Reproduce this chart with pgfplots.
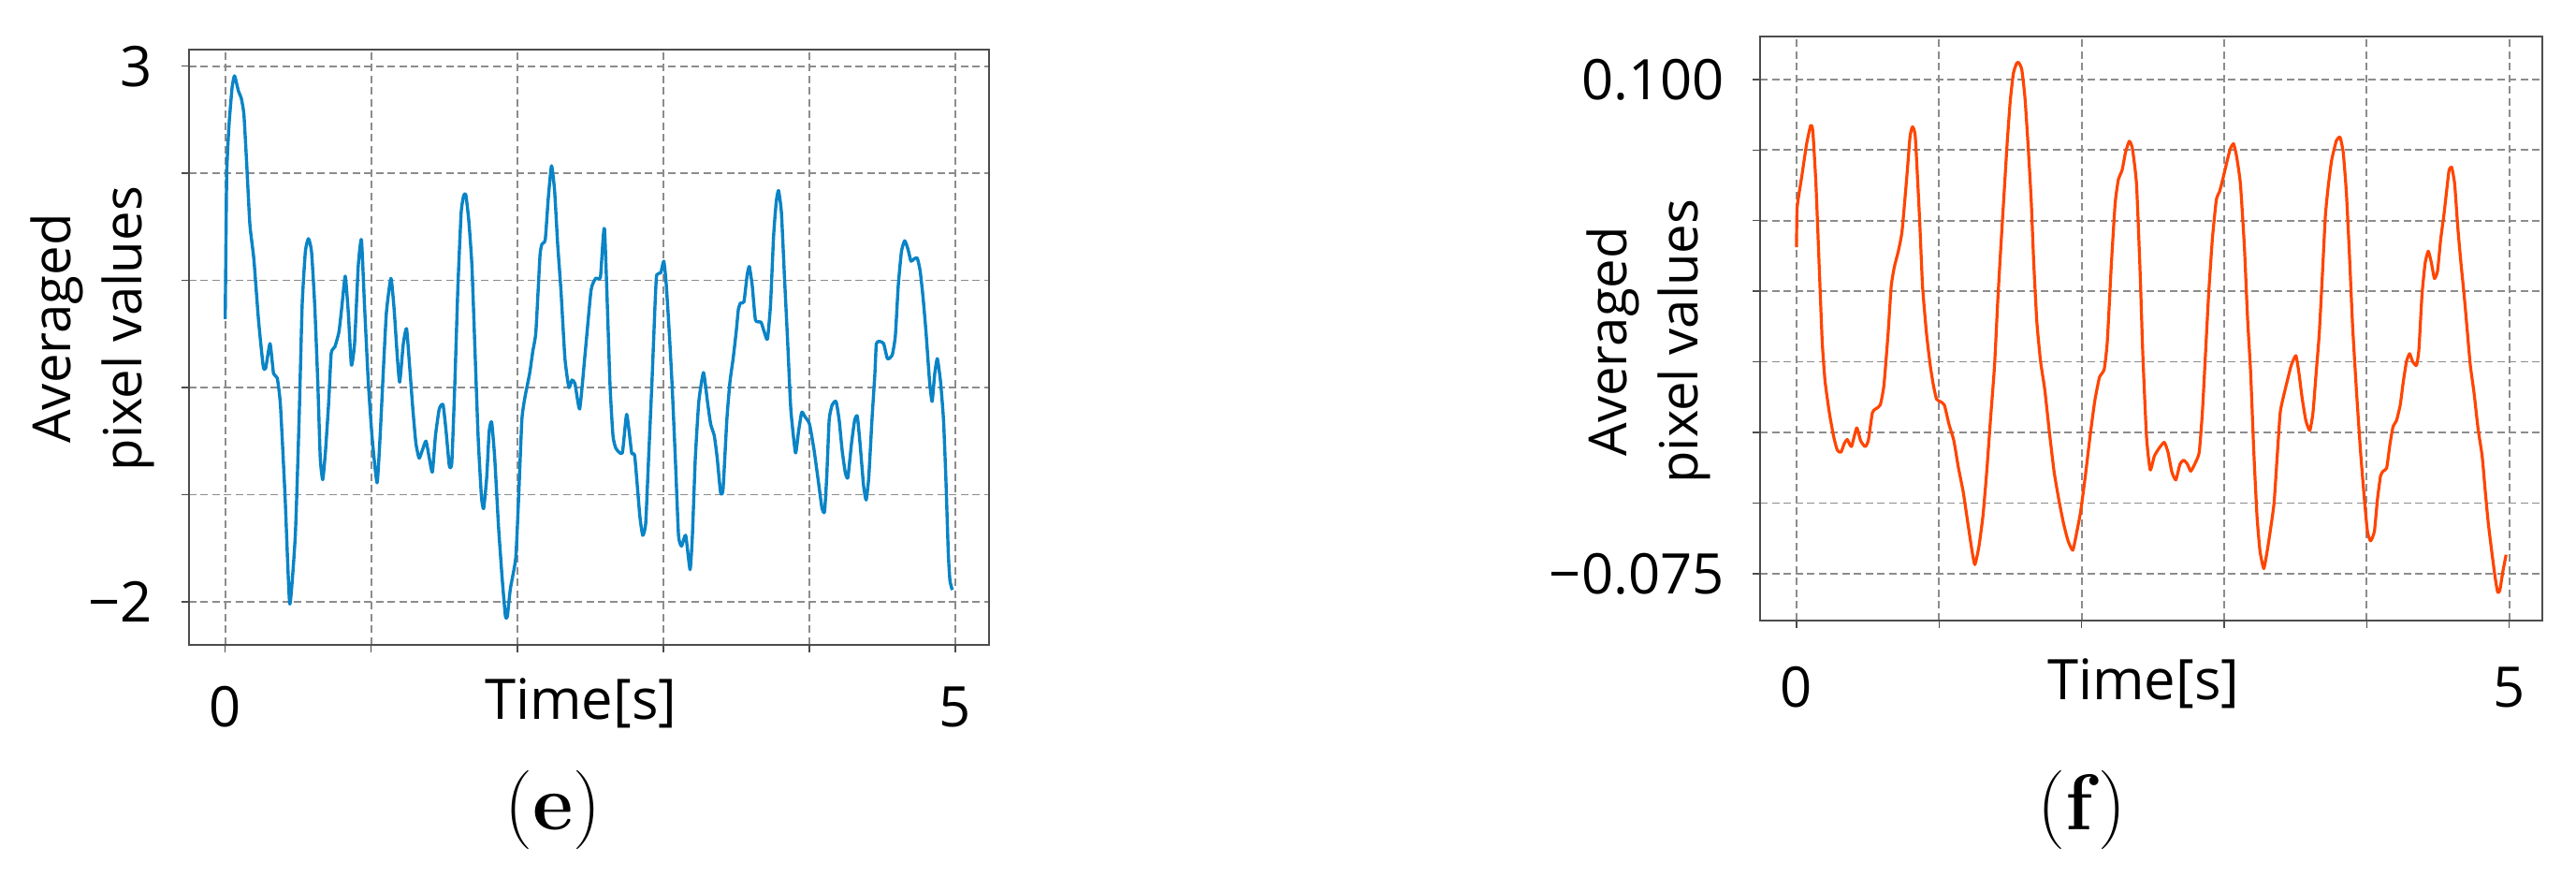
\documentclass[border=0pt]{standalone}
\usepackage{fontspec}
\usepackage{pgfplots}
\pgfplotsset{compat=1.18}
\newfontfamily\sans{Open Sans}
\definecolor{sigblue}{HTML}{0A84C6}
\definecolor{sigred}{HTML}{FF4500}

\pgfplotsset{
  panel/.style={
    scale only axis,
    anchor=south west,
    xmin=-0.25, xmax=5.23,
    xtick={0,1,2,3,4,5},
    xticklabels={0,,,,,5},
    tick pos=left,
    tick align=outside,
    major tick length=0.08cm,
    tick style={black!70, line width=0.015cm},
    axis line style={black!70, line width=0.02cm},
    grid=major,
    major grid style={black!45, line width=0.017cm, dash pattern=on 0.08cm off 0.045cm},
    scaled y ticks=false,
    ticklabel style={font=\sans\fontsize{17}{20}\selectfont},
    yticklabel style={anchor=east, inner sep=0pt, xshift=-0.30cm},
    xlabel={Time[s]},
    ylabel={Averaged\\pixel values},
    xlabel style={font=\sans\fontsize{17}{20}\selectfont, anchor=base, inner sep=0pt},
    ylabel style={font=\sans\fontsize{16}{21.5}\selectfont, anchor=center, align=center},
  }
}

\begin{document}
\begin{tikzpicture}
\path[use as bounding box] (0,0) rectangle (27.53,9.53);

% (e)
\begin{axis}[panel,
  at={(2.017cm,2.643cm)},
  width=8.55cm, height=6.357cm,
  ymin=-2.40, ymax=3.155,
  ytick={-2,-1,0,1,2,3},
  yticklabels={−2,,,,,3},
  xticklabel style={anchor=base, inner sep=0pt, yshift=-0.80cm},
  xlabel style={at={(axis description cs:0.49,0)}, yshift=-0.80cm},
  ylabel style={at={(axis description cs:-0.120,0.531)}},
]
\addplot[sigblue, line width=0.034cm, line join=round, smooth, tension=0.3] coordinates {
(0.00,0.64) (0.01,1.98) (0.026,2.45) (0.047,2.80) (0.064,2.91) (0.09,2.77)
(0.11,2.70) (0.128,2.55) (0.147,2.09) (0.169,1.52) (0.196,1.20) (0.228,0.63)
(0.26,0.20) (0.277,0.18) (0.307,0.41) (0.331,0.13) (0.356,0.09) (0.378,-0.16)
(0.41,-1.02) (0.442,-2.02) (0.48,-1.38) (0.506,-0.30) (0.527,0.77) (0.549,1.27)
(0.57,1.39) (0.591,1.27) (0.613,0.77) (0.634,0.05) (0.651,-0.66) (0.668,-0.86)
(0.687,-0.59) (0.709,-0.13) (0.726,0.32) (0.751,0.38) (0.779,0.52) (0.80,0.77)
(0.822,1.04) (0.843,0.70) (0.864,0.21) (0.886,0.41) (0.911,1.13) (0.933,1.38)
(0.954,0.77) (0.98,0.05) (1.007,-0.48) (1.04,-0.89) (1.06,-0.48) (1.082,0.13)
(1.104,0.70) (1.135,1.02) (1.157,0.73) (1.178,0.30) (1.195,0.05) (1.22,0.41)
(1.242,0.55) (1.263,0.20) (1.285,-0.20) (1.306,-0.52) (1.328,-0.66) (1.349,-0.59)
(1.375,-0.50) (1.398,-0.66) (1.419,-0.79) (1.44,-0.45) (1.466,-0.20) (1.492,-0.16)
(1.513,-0.41) (1.535,-0.73) (1.552,-0.70) (1.573,0.05) (1.594,0.95) (1.616,1.63)
(1.633,1.79) (1.648,1.80) (1.669,1.55) (1.69,1.13) (1.712,0.30) (1.733,-0.48)
(1.755,-1.02) (1.77,-1.13) (1.791,-0.84) (1.808,-0.41) (1.825,-0.32) (1.846,-0.66)
(1.872,-1.30) (1.898,-1.80) (1.919,-2.13) (1.932,-2.14) (1.953,-1.88) (1.99,-1.59)
(2.01,-1.02) (2.032,-0.30) (2.053,-0.09) (2.085,0.13) (2.107,0.34) (2.128,0.52)
(2.156,1.23) (2.17,1.34) (2.192,1.38) (2.213,1.77) (2.235,2.07) (2.256,1.84)
(2.277,1.34) (2.30,0.90) (2.327,0.27) (2.354,0.00) (2.375,0.07) (2.396,0.035)
(2.428,-0.20) (2.464,0.30) (2.506,0.91) (2.538,1.02) (2.57,1.03) (2.598,1.48)
(2.635,0.05) (2.656,-0.45) (2.677,-0.57) (2.72,-0.61) (2.75,-0.25) (2.784,-0.61)
(2.805,-0.64) (2.84,-1.20) (2.86,-1.38) (2.88,-1.27) (2.90,-0.66) (2.923,0.05)
(2.944,0.77) (2.955,1.05) (2.983,1.07) (3.004,1.18) (3.02,0.98) (3.04,0.55)
(3.06,0.05) (3.083,-0.66) (3.105,-1.38) (3.126,-1.48) (3.154,-1.38) (3.184,-1.70)
(3.20,-1.38) (3.22,-0.66) (3.244,-0.13) (3.276,0.14) (3.303,-0.13) (3.325,-0.34)
(3.35,-0.45) (3.37,-0.66) (3.393,-0.98) (3.41,-0.95) (3.436,-0.30) (3.457,0.05)
(3.479,0.27) (3.50,0.52) (3.515,0.73) (3.53,0.79) (3.553,0.80) (3.575,1.05)
(3.59,1.13) (3.61,0.95) (3.632,0.63) (3.67,0.61) (3.692,0.52) (3.714,0.45)
(3.735,0.77) (3.756,1.41) (3.774,1.73) (3.79,1.84) (3.81,1.63) (3.83,1.05)
(3.853,0.41) (3.874,-0.20) (3.906,-0.61) (3.927,-0.41) (3.949,-0.23) (3.97,-0.27)
(4.002,-0.34) (4.034,-0.59) (4.066,-0.91) (4.088,-1.13) (4.105,-1.16) (4.12,-0.84)
(4.137,-0.30) (4.158,-0.16) (4.184,-0.13) (4.205,-0.30) (4.226,-0.59) (4.248,-0.80)
(4.265,-0.84) (4.29,-0.52) (4.312,-0.30) (4.33,-0.27) (4.35,-0.55) (4.372,-0.91)
(4.39,-1.05) (4.408,-0.84) (4.43,-0.30) (4.45,0.13) (4.46,0.41) (4.483,0.43)
(4.51,0.41) (4.536,0.27) (4.568,0.30) (4.59,0.48) (4.61,0.95) (4.632,1.27)
(4.654,1.37) (4.675,1.30) (4.697,1.18) (4.718,1.20) (4.74,1.21) (4.76,1.09)
(4.78,0.84) (4.80,0.52) (4.825,0.05) (4.842,-0.13) (4.86,0.13) (4.878,0.27)
(4.90,0.05) (4.92,-0.30) (4.936,-0.84) (4.953,-1.55) (4.964,-1.80) (4.98,-1.89)
};
\end{axis}

% (f)
\begin{axis}[panel,
  at={(18.813cm,2.903cm)},
  width=8.354cm, height=6.234cm,
  xmin=-0.254,
  ymin=-0.0915, ymax=0.1151,
  ytick={-0.075,-0.05,-0.025,0,0.025,0.05,0.075,0.1},
  yticklabels={−0.075,,,,,,,0.100},
  xticklabel style={anchor=base, inner sep=0pt, yshift=-0.85cm},
  xlabel style={at={(axis description cs:0.49,0)}, yshift=-0.85cm},
  ylabel style={at={(axis description cs:-0.1428,0.478)}},
]
\addplot[sigred, line width=0.032cm, line join=round, smooth, tension=0.3] coordinates {
(0.00,0.0406) (0.004,0.0546) (0.037,0.0658) (0.07,0.0770) (0.099,0.0837) (0.114,0.0818)
(0.136,0.0630) (0.158,0.0350) (0.18,0.0071) (0.20,-0.0069) (0.23,-0.0180) (0.26,-0.0264)
(0.286,-0.0313) (0.312,-0.0320) (0.334,-0.0290) (0.356,-0.0275) (0.385,-0.0300) (0.422,-0.0234)
(0.45,-0.0280) (0.481,-0.0300) (0.503,-0.0280) (0.532,-0.0180) (0.554,-0.0167) (0.587,-0.0153)
(0.613,-0.0083) (0.642,0.0099) (0.664,0.0267) (0.686,0.0336) (0.714,0.0392) (0.74,0.0462)
(0.774,0.0658) (0.796,0.0797) (0.813,0.0832) (0.833,0.0797) (0.862,0.0518) (0.884,0.0267)
(0.912,0.0099) (0.938,-0.0013) (0.96,-0.0083) (0.982,-0.0132) (1.009,-0.0141) (1.037,-0.0153)
(1.07,-0.0222) (1.103,-0.0278) (1.136,-0.0376) (1.169,-0.0460) (1.202,-0.0572) (1.231,-0.0669)
(1.251,-0.0718) (1.279,-0.0655) (1.308,-0.0544) (1.334,-0.0390) (1.36,-0.0208) (1.389,-0.0013)
(1.411,0.0211) (1.433,0.0406) (1.455,0.0588) (1.477,0.0770) (1.499,0.0923) (1.521,0.1021)
(1.543,0.1056) (1.558,0.1060) (1.58,0.1035) (1.602,0.0937) (1.624,0.0770) (1.646,0.0574)
(1.664,0.0350) (1.686,0.0140) (1.712,0.0001) (1.741,-0.0097) (1.774,-0.0250) (1.807,-0.0390)
(1.84,-0.0488) (1.873,-0.0572) (1.905,-0.0634) (1.938,-0.0667) (1.967,-0.0600) (1.993,-0.0530)
(2.026,-0.0404) (2.059,-0.0264) (2.092,-0.0139) (2.125,-0.0055) (2.158,-0.0027) (2.18,0.0071)
(2.209,0.0350) (2.235,0.0560) (2.257,0.0644) (2.284,0.0679) (2.308,0.0742) (2.334,0.0781)
(2.356,0.0756) (2.385,0.0630) (2.411,0.0308) (2.429,0.0029) (2.455,-0.0264) (2.481,-0.0383)
(2.51,-0.0334) (2.543,-0.0306) (2.58,-0.0285) (2.606,-0.0320) (2.633,-0.0390) (2.661,-0.0418)
(2.69,-0.0362) (2.716,-0.0348) (2.742,-0.0362) (2.766,-0.0387) (2.80,-0.0355) (2.825,-0.0320)
(2.847,-0.0180) (2.869,0.0029) (2.891,0.0239) (2.917,0.0434) (2.945,0.0574) (2.967,0.0602)
(2.989,0.0644) (3.022,0.0714) (3.044,0.0756) (3.066,0.0772) (3.087,0.0728) (3.114,0.0630)
(3.142,0.0406) (3.164,0.0155) (3.186,-0.0041) (3.208,-0.0320) (3.23,-0.0544) (3.251,-0.0669)
(3.278,-0.0732) (3.302,-0.0669) (3.323,-0.0600) (3.35,-0.0500) (3.372,-0.0334) (3.393,-0.0180)
(3.415,-0.0125) (3.442,-0.0069) (3.47,-0.0013) (3.503,0.0022) (3.525,-0.0041) (3.546,-0.0125)
(3.573,-0.0208) (3.601,-0.0243) (3.623,-0.0180) (3.645,-0.0041) (3.667,0.0099) (3.689,0.0308)
(3.71,0.0518) (3.732,0.0630) (3.754,0.0714) (3.787,0.0783) (3.813,0.0795) (3.835,0.0742)
(3.857,0.0602) (3.879,0.0378) (3.901,0.0127) (3.929,-0.0110) (3.957,-0.0320) (3.984,-0.0488)
(4.005,-0.0600) (4.027,-0.0634) (4.054,-0.0600) (4.075,-0.0488) (4.097,-0.0404) (4.115,-0.0387)
(4.14,-0.0376) (4.163,-0.0292) (4.185,-0.0229) (4.209,-0.0208) (4.235,-0.0153) (4.257,-0.0069)
(4.279,0.0001) (4.301,0.0029) (4.322,0.0001) (4.349,-0.0013) (4.366,0.0043) (4.388,0.0239)
(4.41,0.0350) (4.432,0.0392) (4.454,0.0350) (4.475,0.0295) (4.497,0.0322) (4.519,0.0434)
(4.541,0.0518) (4.563,0.0616) (4.578,0.0679) (4.596,0.0689) (4.617,0.0630) (4.639,0.0476)
(4.661,0.0350) (4.683,0.0239) (4.705,0.0113) (4.727,-0.0013) (4.753,-0.0110) (4.781,-0.0236)
(4.81,-0.0334) (4.832,-0.0460) (4.853,-0.0572) (4.88,-0.0683) (4.902,-0.0767) (4.919,-0.0816)
(4.934,-0.0809) (4.956,-0.0740) (4.978,-0.0683)
};
\end{axis}

\node[font=\fontsize{24}{28}\selectfont] at (5.91,0.88) {(\textbf{e})};
\node[font=\fontsize{24}{28}\selectfont] at (22.25,0.88) {(\textbf{f})};
\end{tikzpicture}
\end{document}
